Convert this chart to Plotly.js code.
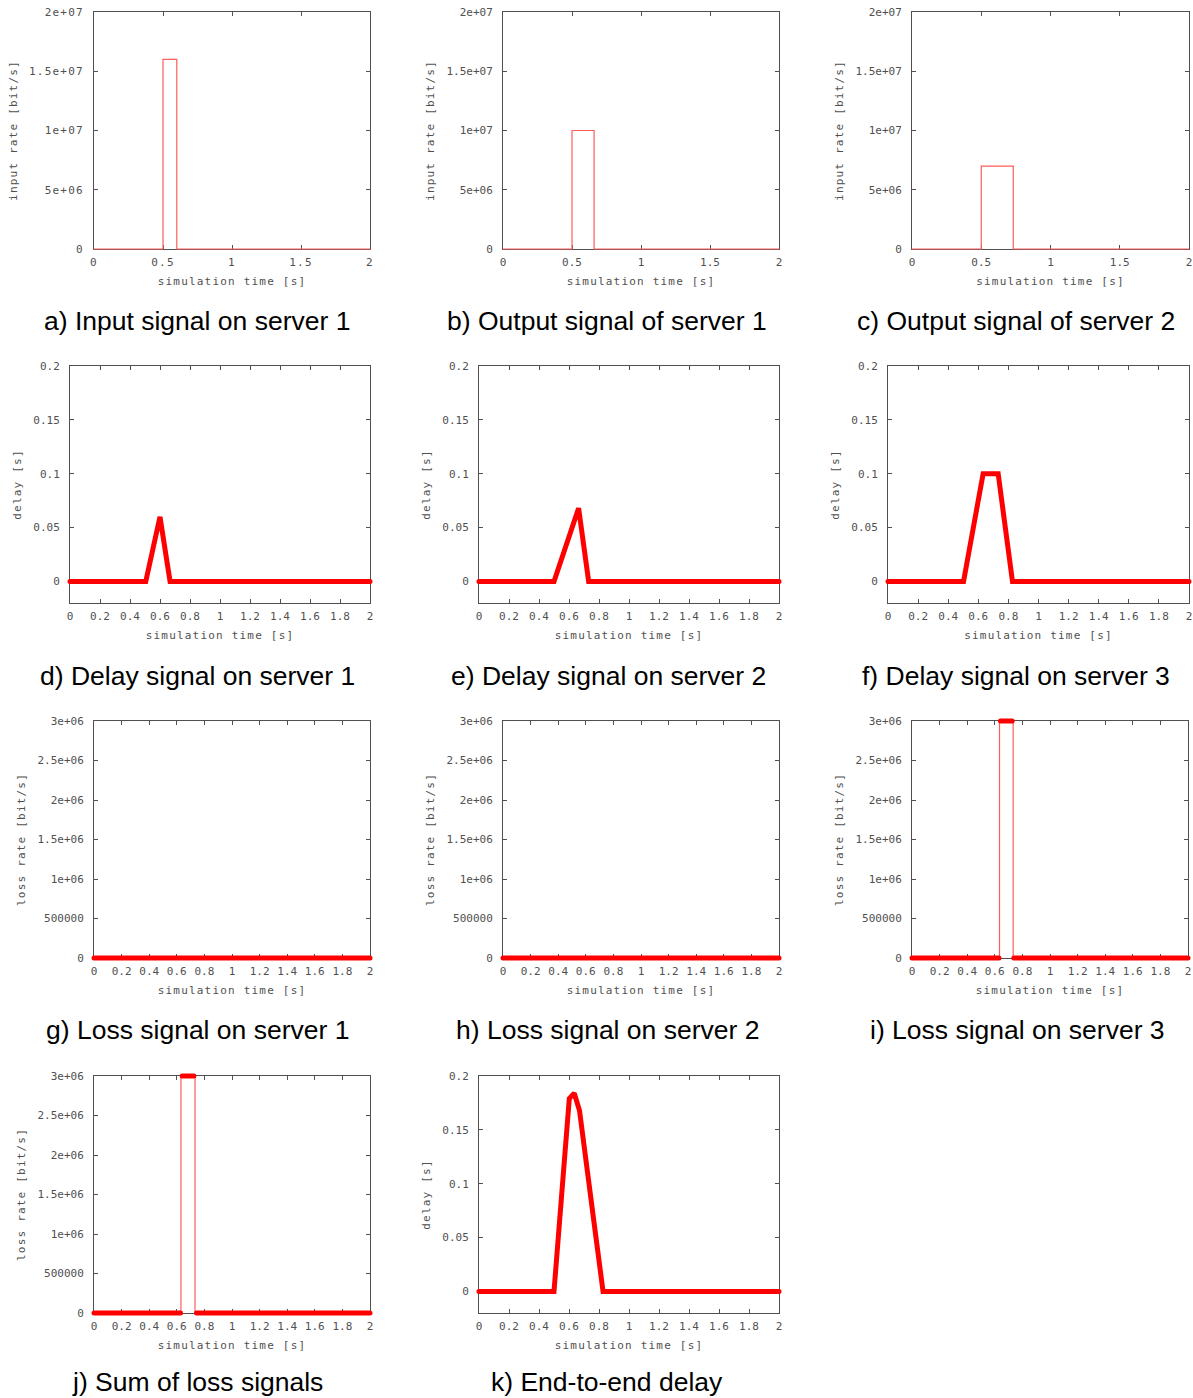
<!DOCTYPE html>
<html>
<head>
<meta charset="utf-8">
<script src="https://cdn.plot.ly/plotly-3.0.1.min.js"></script>
<style>
  html, body { margin: 0; padding: 0; background: #fff; }
  #chart { width: 1193px; height: 1398px; }
  /* let the thick sample bands sit over the frame like point markers do */
  .cartesianlayer [clip-path] { clip-path: none !important; }
  .scatterlayer path.js-line { stroke-linecap: round; }
  .xtick text, .ytick text, .infolayer text:not(.annotation-text) { letter-spacing: 1.2px; }
</style>
</head>
<body>
<div id="chart"></div>
<script>
// ---- signals -------------------------------------------------------------

// Rates in bit/s, step signals (value holds until the next time stamp)
const inputRate1T  = [0, 0.5, 0.6, 2];
const inputRate1V  = [0, 1.6e7, 0, 0];
const outputRate1T = [0, 0.5, 0.66, 2];
const outputRate1V = [0, 1.0e7, 0, 0];
const outputRate2T = [0, 0.5, 0.731, 2];
const outputRate2V = [0, 7.0e6, 0, 0];

// Queueing delay in s
const delay1T = [0, 0.505, 0.6, 0.667, 2];
const delay1V = [0, 0, 0.06, 0, 0];
const delay2T = [0, 0.5, 0.664, 0.731, 2];
const delay2V = [0, 0, 0.068, 0, 0];
const delay3T = [0, 0.502, 0.632, 0.732, 0.827, 2];
const delay3V = [0, 0, 0.1, 0.1, 0, 0];
const delayE2ET = [0, 0.5, 0.602, 0.635, 0.67, 0.73, 0.78, 0.827, 2];
const delayE2EV = [0, 0, 0.179, 0.184, 0.168, 0.1, 0.05, 0, 0];

// Loss rate in bit/s: sampled values (gaps where the samples jump)
const loss1T = [0, 2];
const loss1V = [0, 0];
const loss2T = [0, 2];
const loss2V = [0, 0];
const loss3T = [0, 0.63, null, 0.641, 0.726, null, 0.738, 2];
const loss3V = [0, 0, null, 3e6, 3e6, null, 0, 0];
const lossSumT = [0, 0.627, null, 0.639, 0.724, null, 0.743, 2];
const lossSumV = [0, 0, null, 3e6, 3e6, null, 0, 0];
// Loss rate step outlines
const loss3StepT = [0, 0.634, 0.733, 2];
const loss3StepV = [0, 3e6, 0, 0];
const lossSumStepT = [0, 0.630, 0.732, 2];
const lossSumStepV = [0, 3e6, 0, 0];

// ---- tick labels ---------------------------------------------------------
const timeTicksCoarse = [0, 0.5, 1, 1.5, 2];
const timeLabelsCoarse = ['0', '0.5', '1', '1.5', '2'];
const timeTicksFine = [0, 0.2, 0.4, 0.6, 0.8, 1, 1.2, 1.4, 1.6, 1.8, 2];
const timeLabelsFine = ['0', '0.2', '0.4', '0.6', '0.8', '1', '1.2', '1.4', '1.6', '1.8', '2'];
const rateTicks = [0, 5e6, 1e7, 1.5e7, 2e7];
const rateLabels = ['0', '5e+06', '1e+07', '1.5e+07', '2e+07'];
const delayTicks = [0, 0.05, 0.1, 0.15, 0.2];
const delayLabels = ['0', '0.05', '0.1', '0.15', '0.2'];
const lossTicks = [0, 5e5, 1e6, 1.5e6, 2e6, 2.5e6, 3e6];
const lossLabels = ['0', '500000', '1e+06', '1.5e+06', '2e+06', '2.5e+06', '3e+06'];

// ---- captions ------------------------------------------------------------
const captions = [
  'a) Input signal on server 1', 'b) Output signal of server 1', 'c) Output signal of server 2',
  'd) Delay signal on server 1', 'e) Delay signal on server 2', 'f) Delay signal on server 3',
  'g) Loss signal on server 1', 'h) Loss signal on server 2', 'i) Loss signal on server 3',
  'j) Sum of loss signals', 'k) End-to-end delay'
];

// ---- page geometry (px) --------------------------------------------------
const W = 1193, H = 1398;
const frames = [
  { x: [94, 370],  y: [12, 249] },
  { x: [503, 779], y: [12, 249] },
  { x: [912, 1189], y: [12, 249] },
  { x: [70, 370],  y: [366, 603] },
  { x: [479, 779], y: [366, 603] },
  { x: [888, 1189], y: [366, 603] },
  { x: [94, 370],  y: [721, 958] },
  { x: [503, 779], y: [721, 958] },
  { x: [912, 1188], y: [721, 958] },
  { x: [94, 370],  y: [1076, 1313] },
  { x: [479, 779], y: [1076, 1313] }
];
const captionPos = [
  [197, 321], [607, 321], [1016, 321],
  [197, 676], [608, 676], [1016, 676],
  [197, 1030], [607, 1030], [1017, 1030],
  [197, 1382], [607, 1382]
];

const RED = '#ff0000';
const THIN = '#ff5c5c';
const INK = '#505050';
const tickFont = { family: 'DejaVu Sans Mono, monospace', size: 11, color: INK };

function axisBase() {
  return {
    showline: true, mirror: 'ticks', linecolor: INK, linewidth: 1,
    ticks: 'inside', ticklen: 4, tickcolor: INK, tickwidth: 1,
    showgrid: false, zeroline: false, layer: 'below traces',
    tickfont: tickFont, fixedrange: true, tickmode: 'array'
  };
}

const kinds = ['rate', 'rate', 'rate', 'delay', 'delay', 'delay', 'loss', 'loss', 'loss', 'loss', 'delay'];

const data = [];
const layout = {
  width: W, height: H,
  margin: { l: 0, r: 0, t: 0, b: 0 },
  paper_bgcolor: '#fff', plot_bgcolor: '#fff',
  showlegend: false,
  annotations: []
};

function thinStep(n, t, v) {
  data.push({
    type: 'scatter', mode: 'lines', x: t, y: v,
    xaxis: 'x' + (n === 1 ? '' : n), yaxis: 'y' + (n === 1 ? '' : n),
    line: { color: THIN, width: 1.2, shape: 'hv' },
    cliponaxis: false, hoverinfo: 'skip'
  });
}
function thick(n, t, v) {
  data.push({
    type: 'scatter', mode: 'lines', x: t, y: v,
    xaxis: 'x' + (n === 1 ? '' : n), yaxis: 'y' + (n === 1 ? '' : n),
    line: { color: RED, width: 5 }, connectgaps: false,
    cliponaxis: false, hoverinfo: 'skip'
  });
}

thinStep(1, inputRate1T, inputRate1V);
thinStep(2, outputRate1T, outputRate1V);
thinStep(3, outputRate2T, outputRate2V);
thick(4, delay1T, delay1V);
thick(5, delay2T, delay2V);
thick(6, delay3T, delay3V);
thick(7, loss1T, loss1V);
thick(8, loss2T, loss2V);
thinStep(9, loss3StepT, loss3StepV);
thick(9, loss3T, loss3V);
thinStep(10, lossSumStepT, lossSumStepV);
thick(10, lossSumT, lossSumV);
thick(11, delayE2ET, delayE2EV);

frames.forEach((f, i) => {
  const n = i + 1;
  const sfx = n === 1 ? '' : String(n);
  const kind = kinds[i];
  const xa = axisBase();
  const ya = axisBase();
  xa.domain = [f.x[0] / W, f.x[1] / W];
  ya.domain = [1 - f.y[1] / H, 1 - f.y[0] / H];
  xa.anchor = 'y' + sfx;
  ya.anchor = 'x' + sfx;
  xa.range = [0, 2];
  xa.ticklabelstandoff = 3;
  ya.ticklabelstandoff = 7;
  xa.title = { text: 'simulation time [s]', font: tickFont, standoff: 9 };
  if (kind === 'rate') {
    xa.tickvals = timeTicksCoarse; xa.ticktext = timeLabelsCoarse;
    ya.range = [0, 2e7]; ya.tickvals = rateTicks; ya.ticktext = rateLabels;
    ya.title = { text: 'input rate [bit/s]', font: tickFont, standoff: 9 };
  } else if (kind === 'delay') {
    xa.tickvals = timeTicksFine; xa.ticktext = timeLabelsFine;
    ya.range = [-0.02, 0.2]; ya.tickvals = delayTicks; ya.ticktext = delayLabels;
    ya.title = { text: 'delay [s]', font: tickFont, standoff: 9 };
  } else {
    xa.tickvals = timeTicksFine; xa.ticktext = timeLabelsFine;
    ya.range = [0, 3e6]; ya.tickvals = lossTicks; ya.ticktext = lossLabels;
    ya.title = { text: 'loss rate [bit/s]', font: tickFont, standoff: 9 };
  }
  layout['xaxis' + sfx] = xa;
  layout['yaxis' + sfx] = ya;

  layout.annotations.push({
    text: captions[i], showarrow: false,
    xref: 'paper', yref: 'paper',
    x: captionPos[i][0] / W, y: 1 - captionPos[i][1] / H,
    xanchor: 'center', yanchor: 'middle',
    font: { family: 'Liberation Sans, Arial, sans-serif', size: 26.5, color: '#000' }
  });
});

Plotly.newPlot('chart', data, layout, { displayModeBar: false, staticPlot: true });
</script>
</body>
</html>
